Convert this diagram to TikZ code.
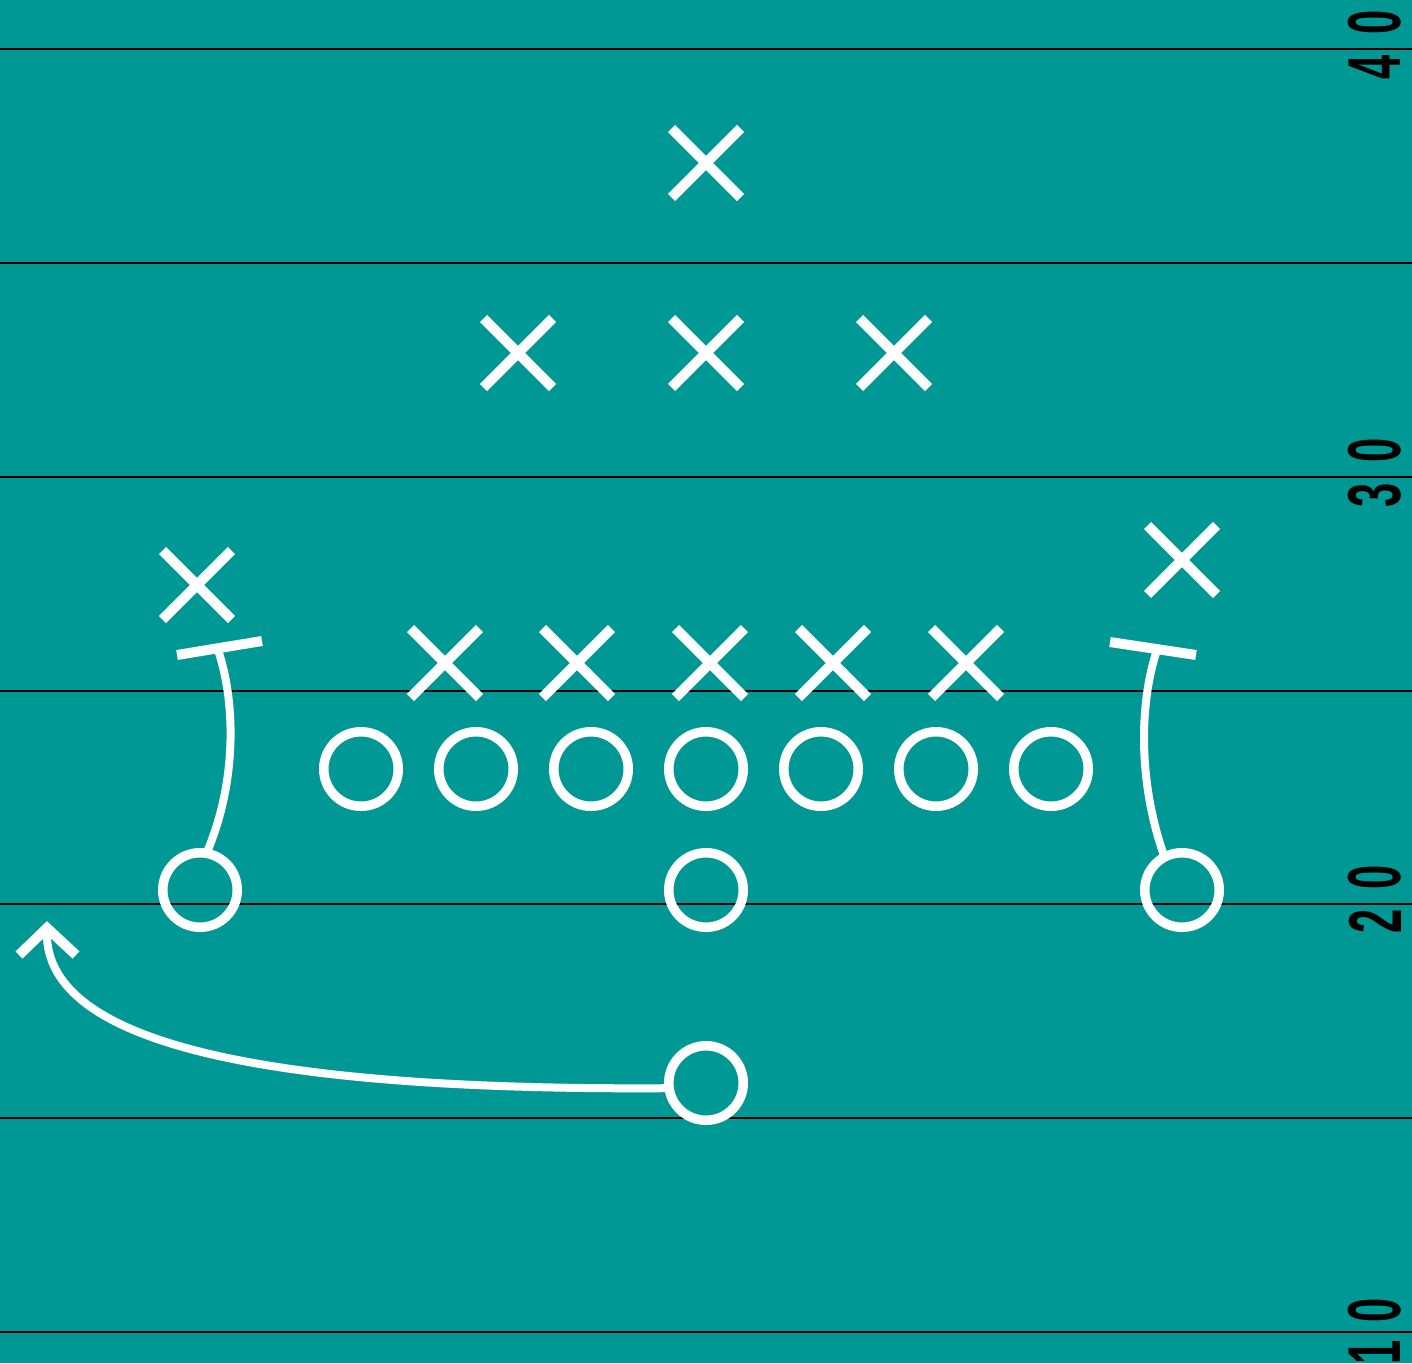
\documentclass[tikz,border=0pt]{standalone}
\usepackage{fontspec}
\usetikzlibrary{shapes.misc}
\definecolor{field}{RGB}{0,152,148}
\newfontfamily\yardfont{Liberation Sans}
\tikzset{
 yardline/.style={black, line width=2pt},
 player/.style={circle, draw=white, line width=9.5pt, minimum size=74.5pt, inner sep=0pt, outer sep=0pt},
 defender/.style={cross out, draw=white, line width=10pt, minimum size=69pt, inner sep=0pt, outer sep=0pt},
 route/.style={white, line width=8pt},
 blockbar/.style={white, line width=10pt},
 yardnum/.style={rotate=90, inner sep=0pt, text=black, font=\yardfont\bfseries\fontsize{75}{75}\selectfont},
}
\newcommand{\dig}[1]{\scalebox{0.58}[1]{#1}}
\begin{document}
\begin{tikzpicture}[x=1pt,y=-1pt]
\useasboundingbox (0,0) rectangle (1412,1363);
\fill[field] (0,0) rectangle (1412,1363);
% yard lines
\foreach \y in {49,263,477,691,904,1118,1332}
  \draw[yardline] (0,\y) -- (1412,\y);
% yard numbers
\node[yardnum] (n40a) at (1375,22) {\dig{0}};
\node[yardnum] (n40b) at (1375,67) {\dig{4}};
\node[yardnum] (n30a) at (1375,450) {\dig{0}};
\node[yardnum] (n30b) at (1375,495) {\dig{3}};
\node[yardnum] (n20a) at (1375,877) {\dig{0}};
\node[yardnum] (n20b) at (1375,921) {\dig{2}};
\node[yardnum] (n10a) at (1375,1310) {\dig{0}};
\node[yardnum] (n10b) at (1375,1352) {\dig{1}};
% defenders
\node[defender] (d1) at (706,163) {};
\node[defender] (d2) at (518,353) {};
\node[defender] (d3) at (706,353) {};
\node[defender] (d4) at (894,353) {};
\node[defender] (d5) at (197,585) {};
\node[defender] (d6) at (1182,560) {};
\node[defender] (d7) at (445,663) {};
\node[defender] (d8) at (577,663) {};
\node[defender] (d9) at (710,663) {};
\node[defender] (d10) at (833,663) {};
\node[defender] (d11) at (966,663) {};
% offense
\foreach \x [count=\i] in {361,476,591,706,821,936,1051}
  \node[player] (o\i) at (\x,769) {};
\node[player] (lw) at (200,890) {};
\node[player] (rb) at (706,890) {};
\node[player] (rw) at (1182,890) {};
\node[player] (qb) at (706,1083) {};
% routes
\coordinate (lt) at (218,650);
\coordinate (rt) at (1157,650);
\draw[route] (lw.80) .. controls (238,780) and (235,700) .. (lt);
\draw[blockbar] (177,655) -- (262,641);
\draw[route] (rw.118) .. controls (1137,780) and (1140,700) .. (rt);
\draw[blockbar] (1110,642) -- (1196,655);
\coordinate (tip) at (47,928);
\draw[route] (qb.188) .. controls (250,1091) and (40,1040) .. (tip);
\draw[blockbar, line join=miter] (19,955) -- (tip) -- (76,955);
\end{tikzpicture}
\end{document}
